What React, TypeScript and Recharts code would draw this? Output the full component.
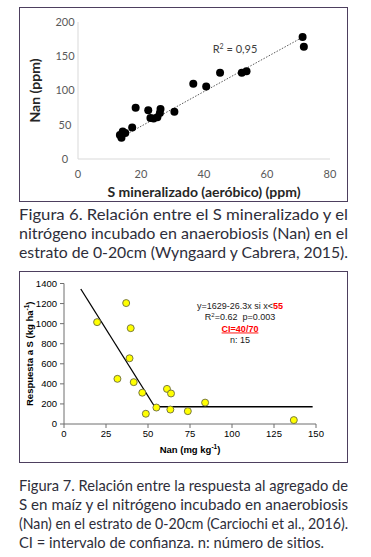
import React from 'react';
import { ScatterChart, Scatter, XAxis, YAxis, ReferenceLine } from 'recharts';

// ---------- Figura 6 data ----------
const fig6X = [13.3, 13.8, 14.2, 15.0, 17.2, 18.3, 22.3, 23.0, 24.0, 25.2, 26.0, 26.2, 30.6, 36.6, 40.7, 45.1, 52.0, 53.5, 71.3, 71.7];
const fig6Y = [35, 31, 40, 38, 46, 75, 71, 60, 59, 61, 67, 73, 69, 110, 106, 126, 126, 128, 178, 164];
const fig6TrendX = [13, 71];
const fig6TrendY = [30, 177];
const fig6XTicks = [0, 20, 40, 60, 80];
const fig6YTicks = [0, 50, 100, 150, 200];

// ---------- Figura 7 data ----------
const fig7X = [19.7, 31.8, 37.0, 39.0, 39.7, 41.5, 46.6, 48.7, 55.0, 61.3, 63.3, 63.7, 73.7, 84.0, 136.8];
const fig7Y = [1015, 450, 1205, 655, 955, 417, 312, 102, 164, 350, 144, 304, 128, 213, 39];
const fig7FitX = [10, 54, 148];
const fig7FitY = [1345, 172, 172];
const fig7XTicks = [0, 25, 50, 75, 100, 125, 150];
const fig7YTicks = [0, 200, 400, 600, 800, 1000, 1200, 1400];

const fig6Caption = [
  'Figura 6. Relación entre el S mineralizado y el',
  'nitrógeno incubado en anaerobiosis (Nan) en el',
  'estrato de 0-20cm (Wyngaard y Cabrera, 2015).',
];
const fig7Caption = [
  'Figura 7. Relación entre la respuesta al agregado de',
  'S en maíz y el nitrógeno incubado en anaerobiosis',
  '(Nan) en el estrato de 0-20cm (Carciochi et al., 2016).',
  'CI = intervalo de confianza. n: número de sitios.',
];

const fig6Data = fig6X.map((x, i) => ({ x, y: fig6Y[i] }));
const fig7Data = fig7X.map((x, i) => ({ x, y: fig7Y[i] }));

const F6 = 'Lato, "Open Sans", sans-serif';
const F7 = '"Liberation Sans", Arial, sans-serif';
const CAP = 'Lato, "Open Sans", sans-serif';

const Fig6XTick = (p: any) => (
  <text x={p.x} y={p.y + 15} dy="0.35em" textAnchor="middle" fontSize={11} fontFamily={F6} fill="#595959">
    {p.payload.value}
  </text>
);
const Fig6YTick = (p: any) => (
  <text x={p.x - 13} y={p.y} dy="0.35em" textAnchor="middle" fontSize={11} fontFamily={F6} fill="#595959">
    {p.payload.value}
  </text>
);

const Fig6XTitle = (props: any) => {
  const vb = props.viewBox || { x: 59, y: 152, width: 252, height: 43 };
  return (
    <text x={vb.x + vb.width / 2} y={vb.y + 37.5} textAnchor="middle" fontSize={14} fontWeight="bold" fontFamily={F6} fill="#262626">
      S mineralizado (aeróbico) (ppm)
    </text>
  );
};
const Fig6YTitle = (props: any) => {
  const vb = props.viewBox || { x: 0, y: 15, width: 59, height: 137 };
  const cx = vb.x + 16;
  const cy = vb.y + vb.height / 2;
  return (
    <text x={cx} y={cy} dy="0.35em" transform={`rotate(-90 ${cx} ${cy})`} textAnchor="middle" fontSize={14} fontWeight="bold" fontFamily={F6} fill="#262626">
      Nan (ppm)
    </text>
  );
};

const Fig7XTitle = (props: any) => {
  const vb = props.viewBox || { x: 45, y: 153, width: 252, height: 39 };
  return (
    <text x={vb.x + vb.width / 2} y={vb.y + 28.5} textAnchor="middle" fontSize={9.5} fontWeight="bold" fontFamily={F7} fill="#000">
      Nan (mg kg<tspan dy={-3.5} fontSize={6.5}>-1</tspan><tspan dy={3.5}>)</tspan>
    </text>
  );
};
const Fig7YTitle = (props: any) => {
  const vb = props.viewBox || { x: 0, y: 12.5, width: 45, height: 140.5 };
  const cx = vb.x + 10.5;
  const cy = vb.y + vb.height / 2;
  return (
    <text x={cx} y={cy} dy="0.35em" transform={`rotate(-90 ${cx} ${cy})`} textAnchor="middle" fontSize={9.5} fontWeight="bold" fontFamily={F7} fill="#000">
      Respuesta a S (kg ha<tspan dy={-3.5} fontSize={6.5}>-1</tspan><tspan dy={3.5}>)</tspan>
    </text>
  );
};

const blackDot = (p: any) => <circle cx={p.cx} cy={p.cy} r={4} fill="#000" />;
const yellowDot = (p: any) => <circle cx={p.cx} cy={p.cy} r={3.5} fill="#ffff00" stroke="#6b6b40" strokeWidth={0.9} />;

const boxStyle = (left: number, top: number, w: number, h: number): React.CSSProperties => ({
  position: 'absolute', left, top, width: w, height: h, boxSizing: 'border-box',
  border: '1.5px solid #4d3f5e', pointerEvents: 'none',
});

export default function App() {
  return (
    <div style={{ position: 'absolute', left: 0, top: 0, width: 371, height: 557, background: '#fff', overflow: 'hidden' }}>
      {/* Figura 6 chart */}
      <div style={{ position: 'absolute', left: 19, top: 7 }}>
        <ScatterChart width={329} height={195} margin={{ top: 15, right: 18, bottom: 0, left: 0 }}>
          <XAxis type="number" dataKey="x" domain={[0, 80]} ticks={fig6XTicks} height={43}
            axisLine={{ stroke: '#d9d9d9' }} tickLine={false} tickSize={0} tickMargin={0}
            tick={Fig6XTick} label={{ content: Fig6XTitle }} />
          <YAxis type="number" dataKey="y" domain={[0, 200]} ticks={fig6YTicks} width={59}
            axisLine={{ stroke: '#d9d9d9' }} tickLine={false} tickSize={0} tickMargin={0}
            tick={Fig6YTick} label={{ content: Fig6YTitle }} />
          <ReferenceLine
            segment={[{ x: fig6TrendX[0], y: fig6TrendY[0] }, { x: fig6TrendX[1], y: fig6TrendY[1] }]}
            stroke="#595959" strokeWidth={1} strokeDasharray="1.5 1.5" />
          <Scatter data={fig6Data} fill="#000" shape={blackDot} isAnimationActive={false} />
        </ScatterChart>
      </div>
      <div style={boxStyle(19, 7, 329, 195)} />

      {/* Figura 7 chart */}
      <div style={{ position: 'absolute', left: 19, top: 271 }}>
        <ScatterChart width={329} height={192} margin={{ top: 12.5, right: 32, bottom: 0, left: 0 }}>
          <XAxis type="number" dataKey="x" domain={[0, 150]} ticks={fig7XTicks} height={39}
            axisLine={{ stroke: '#6e6e6e' }} tickLine={{ stroke: '#6e6e6e' }} tickSize={4} tickMargin={2}
            tick={{ fontSize: 9.5, fill: '#000', fontFamily: F7 }} label={{ content: Fig7XTitle }} />
          <YAxis type="number" dataKey="y" domain={[0, 1400]} ticks={fig7YTicks} width={45}
            axisLine={{ stroke: '#6e6e6e' }} tickLine={{ stroke: '#6e6e6e' }} tickSize={4} tickMargin={3}
            tick={{ fontSize: 9.5, fill: '#000', fontFamily: F7 }} label={{ content: Fig7YTitle }} />
          <ReferenceLine
            segment={[{ x: fig7FitX[0], y: fig7FitY[0] }, { x: fig7FitX[1], y: fig7FitY[1] }]}
            stroke="#000" strokeWidth={1.3} />
          <ReferenceLine
            segment={[{ x: fig7FitX[1], y: fig7FitY[1] }, { x: fig7FitX[2], y: fig7FitY[2] }]}
            stroke="#000" strokeWidth={1.3} />
          <Scatter data={fig7Data} fill="#ffff00" shape={yellowDot} isAnimationActive={false} />
        </ScatterChart>
      </div>
      <div style={boxStyle(19, 271, 329, 192)} />

      {/* annotations and captions */}
      <svg width={371} height={557} style={{ position: 'absolute', left: 0, top: 0, pointerEvents: 'none' }}>
        <text x={235} y={52.7} textAnchor="middle" fontSize={11} fontFamily={F6} fill="#404040">
          R<tspan dy={-3.5} fontSize={7}>2</tspan><tspan dy={3.5}> = 0,95</tspan>
        </text>

        <g fontFamily={F7} fontSize={9} fill="#1a1a1a" textAnchor="middle">
          <text x={240} y={308.5}>
            y=1629-26.3x si x&lt;<tspan fill="#ff0000" fontWeight="bold">55</tspan>
          </text>
          <text x={240} y={320}>
            R<tspan dy={-3} fontSize={6}>2</tspan><tspan dy={3}>=0.62{'\u00A0 '}p=0.003</tspan>
          </text>
          <text x={240} y={331.5} fill="#ff0000" fontWeight="bold" textDecoration="underline">CI=40/70</text>
          <text x={240} y={343}>n: 15</text>
        </g>

        <g fontFamily={CAP} fontSize={15} fill="#2e2e3a">
          {fig6Caption.map((line, i) => (
            <text key={'c6' + i} x={19} y={219.5 + i * 19} textLength={329} lengthAdjust="spacingAndGlyphs">{line}</text>
          ))}
          {fig7Caption.map((line, i) => (
            <text key={'c7' + i} x={19} y={490.5 + i * 19}
              textLength={i === 3 ? 305 : 329} lengthAdjust="spacingAndGlyphs">{line}</text>
          ))}
        </g>
      </svg>
    </div>
  );
}
